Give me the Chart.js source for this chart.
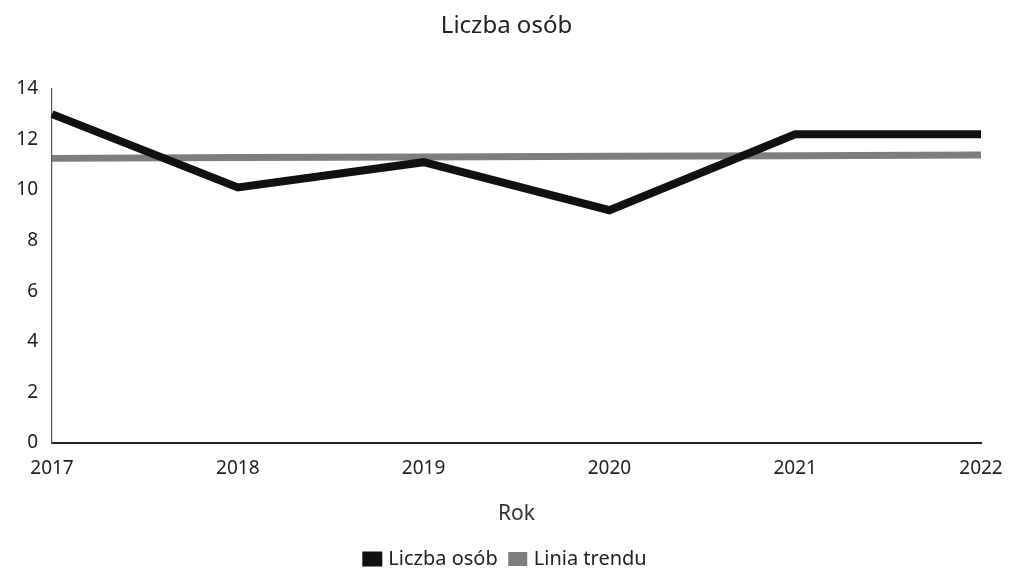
<!DOCTYPE html>
<html>
<head>
<meta charset="utf-8">
<script src="https://cdn.jsdelivr.net/npm/chart.js@4.4.1/dist/chart.umd.min.js"></script>
<style>
  html, body { margin: 0; padding: 0; background: #fff; }
  #wrap { width: 1010px; height: 575px; }
</style>
</head>
<body>
<div id="wrap"><canvas id="myChart" width="1010" height="575"></canvas></div>
<script>
// dane
const years = ['2017', '2018', '2019', '2020', '2021', '2022'];
const liczbaOsob = [13, 10.1, 11.1, 9.2, 12.2, 12.2];
const liniaTrendu = [11.25, 11.28, 11.3, 11.33, 11.35, 11.38];
const yTicks = [0, 2, 4, 6, 8, 10, 12, 14];

const fontName = "'Noto Sans', 'Open Sans', sans-serif";

const ctx = document.getElementById('myChart').getContext('2d');
const myChart = new Chart(ctx, {
    type: 'line',
    data: {
        labels: years,
        datasets: [{
            label: 'Liczba osób',
            data: liczbaOsob,
            borderColor: '#111111',
            backgroundColor: '#111111',
            borderWidth: 8,
            pointRadius: 0,
            tension: 0
        }, {
            label: 'Linia trendu',
            data: liniaTrendu,
            borderColor: '#7e7e7e',
            backgroundColor: '#5e5e5e',
            borderWidth: 7,
            pointRadius: 0,
            tension: 0
        }]
    },
    options: {
        responsive: false,
        animation: false,
        layout: { padding: { left: 10, right: 7, top: 4, bottom: -4 } },
        plugins: {
            title: {
                display: true,
                text: 'Liczba osób',
                color: '#222',
                font: { family: fontName, size: 24, weight: 'normal' },
                padding: { top: 8, bottom: 48 }
            },
            legend: {
                position: 'bottom',
                labels: {
                    color: '#222',
                    font: { family: fontName, size: 20 },
                    boxWidth: 12,
                    boxHeight: 7,
                    padding: 14
                }
            },
            tooltip: { enabled: false }
        },
        scales: {
            x: {
                offset: false,
                afterFit: scale => {
                    scale.paddingRight = 29;
                },
                grid: { display: false, drawTicks: false },
                border: { display: true, color: '#222', width: 2 },
                ticks: {
                    color: '#222',
                    font: { family: fontName, size: 19 },
                    padding: 14,
                    maxRotation: 0
                },
                title: {
                    display: true,
                    text: 'Rok',
                    color: '#333',
                    font: { family: fontName, size: 21 },
                    padding: { top: 8, bottom: 8 }
                }
            },
            y: {
                min: 0,
                max: 14,
                afterBuildTicks: axis => {
                    axis.ticks = yTicks.map(v => ({ value: v }));
                },
                afterFit: scale => {
                    scale.width = 42;
                },
                grid: { display: false, drawTicks: false },
                border: { display: true, color: '#555', width: 1.2, dash: [2, 4] },
                ticks: {
                    color: '#222',
                    font: { family: fontName, size: 19 },
                    padding: 14
                }
            }
        }
    }
});
</script>
</body>
</html>
